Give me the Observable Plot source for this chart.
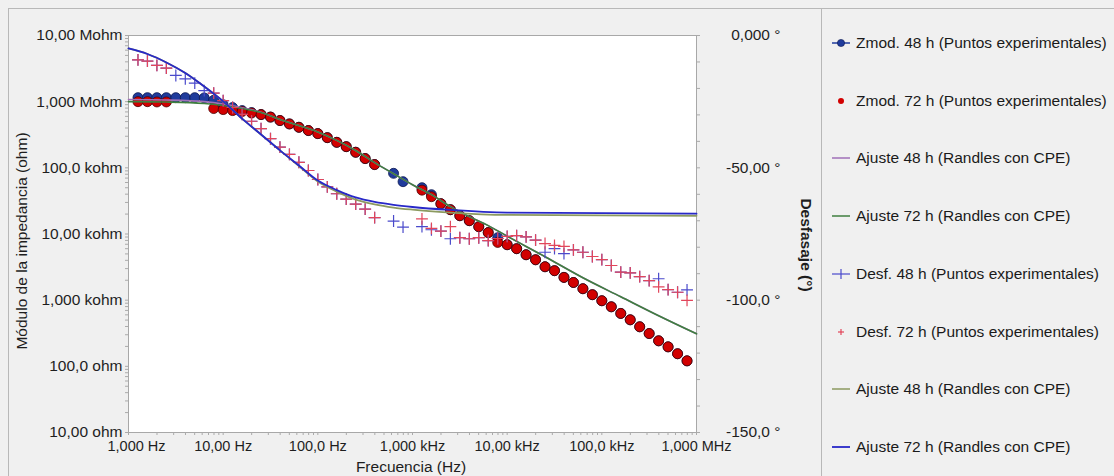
<!DOCTYPE html>
<html>
<head>
<meta charset="utf-8">
<script src="https://cdn.jsdelivr.net/npm/d3@7"></script>
<script src="https://cdn.jsdelivr.net/npm/@observablehq/plot@0.6"></script>
<style>
  html, body { margin: 0; padding: 0; background: #f0f0f0; }
  #wrap { position: relative; width: 1114px; height: 476px; background: #f0f0f0; overflow: hidden;
          font-family: "Liberation Sans", Arial, sans-serif; color: #222; }
  #chart { position: absolute; left: 0; top: 0; }
  .lbl { position: absolute; font-size: 15.5px; white-space: nowrap; color: #1e1e1e; }
  .rule { position: absolute; background: #b8b8b8; }
  .leg { position: absolute; left: 830px; font-size: 15.5px; white-space: nowrap; color: #1a1a1a; height: 18px; line-height: 18px; }
  .leg svg { position: absolute; left: 0; top: 1px; }
  .leg span { position: absolute; left: 26px; top: 0; }
</style>
</head>
<body>
<div id="wrap">
  <div class="rule" style="left:8px;top:8px;width:1106px;height:1px;"></div>
  <div class="rule" style="left:8px;top:8px;width:1px;height:468px;"></div>
  <div class="rule" style="left:821px;top:8px;width:1px;height:468px;"></div>
  <div id="chart"></div>
  <div class="lbl" id="ylab" style="left:22px;top:241px;transform:translate(-50%,-50%) rotate(-90deg);">Módulo de la impedancia (ohm)</div>
  <div class="lbl" id="xlab" style="left:411px;top:467px;transform:translate(-50%,-50%);">Frecuencia (Hz)</div>
  <div class="lbl" id="y2lab" style="left:806px;top:245px;font-weight:bold;transform:translate(-50%,-50%) rotate(90deg);">Desfasaje (°)</div>
  <div id="legend"></div>
</div>
<script>
// ---------- data ----------
const freq = [1.259, 1.585, 1.995, 2.512, 3.162, 3.981, 5.012, 6.310, 7.943, 10.00,
  12.59, 15.85, 19.95, 25.12, 31.62, 39.81, 50.12, 63.10, 79.43, 100.0,
  125.9, 158.5, 199.5, 251.2, 316.2, 398.1, 501.2, 631.0, 794.3, 1000,
  1259, 1585, 1995, 2512, 3162, 3981, 5012, 6310, 7943, 10000,
  12589, 15849, 19953, 25119, 31623, 39811, 50119, 63096, 79433, 100000,
  125893, 158489, 199526, 251189, 316228, 398107, 501187, 630957, 794328];

// |Z| 48 h (ohm)
const zmod48 = [1.15e6, 1.15e6, 1.15e6, 1.15e6, 1.15e6, 1.15e6, 1.15e6, 1.14e6, 1.05e6, 9.0e5,
  8.15e5, 7.33e5, 6.84e5, 6.38e5, 5.85e5, 5.18e5, 4.61e5, 4.10e5, 3.66e5, 3.29e5,
  2.86e5, 2.43e5, 2.09e5, 1.72e5, 1.38e5, 1.12e5, null, 8.26e4, 6.18e4, null,
  5.01e4, 3.93e4, 2.87e4, 2.33e4, 1.89e4, 1.59e4, 1.29e4, 1.05e4, 8.79e3, 6.89e3,
  6.00e3, 4.86e3, 4.08e3, 3.20e3, 2.79e3, 2.21e3, 1.85e3, 1.49e3, 1.21e3, 980,
  794, 630, 505, 396, 313, 243, 197, 155, 121];

// |Z| 72 h (ohm)
const zmod72 = [1.0e6, 1.0e6, 0.99e6, 0.99e6, null, null, null, null, 7.87e5, 7.59e5,
  7.33e5, 7.08e5, 6.73e5, 6.38e5, 5.85e5, 5.18e5, 4.61e5, 4.10e5, 3.66e5, 3.29e5,
  2.86e5, 2.43e5, 2.09e5, 1.72e5, 1.38e5, 1.12e5, null, null, null, null,
  4.6e4, 3.66e4, 2.87e4, 2.33e4, 1.89e4, 1.59e4, 1.29e4, 1.05e4, 7.46e3, 6.89e3,
  6.00e3, 4.86e3, 4.08e3, 3.20e3, 2.79e3, 2.21e3, 1.85e3, 1.49e3, 1.21e3, 980,
  794, 630, 505, 396, 313, 243, 197, 155, 121];

// phase 48 h (degrees)
const desf48 = [-9.2, -9.7, -11.3, -12.3, -15.1, -16.4, -18.0, -20.8, -21.8, -24.6,
  -27.2, -29.8, -32.4, -35.2, -39.0, -42.2, -44.9, -47.9, -51.0, -54.4,
  -57.2, -59.8, -61.8, -63.7, -65.6, -68.8, null, -70.1, -72.4, null,
  -72.2, -73.4, -73.9, -76.8, -76.4, -76.8, -76.4, -77.5, -76.7, -75.9,
  -75.6, -76.1, -77.3, -81.9, -80.5, -82.4, -81.0, -81.9, -83.5, -84.7,
  -86.9, -89.4, -89.7, -91.1, -92.6, -91.9, -96.0, -97.0, -96.1];

// phase 72 h (degrees)
const desf72 = [-9.2, -9.7, -11.3, -12.3, null, null, null, null, -21.8, -24.6,
  -27.2, -29.8, -32.4, -35.2, -39.0, -42.2, -44.9, -47.9, -51.0, -54.4,
  -57.2, -59.8, -61.8, -63.7, -65.6, -68.8, null, null, null, null,
  -69.3, -72.9, -73.9, -72.2, -76.4, -76.8, -76.4, -77.5, -76.7, -75.9,
  -75.6, -76.1, -77.3, -78.6, -79.3, -79.7, -81.0, -81.9, -83.5, -84.7,
  -86.9, -89.4, -89.7, -91.1, -92.6, -95.0, -96.0, -97.0, -100.1];

// Randles + CPE fits, |Z|
const fitFreqZ = [1, 2.512, 6.310, 10, 15.85, 25.12, 39.81, 63.10, 100, 158.5,
  251.2, 398.1, 631.0, 1000, 1585, 2512, 3981, 6310, 10000, 25119,
  63096, 158489, 398107, 1000000];
const fitZ48 = [1.08e6, 1.06e6, 1.0e6, 9.2e5, 8.1e5, 6.9e5, 5.37e5, 4.36e5, 3.49e5, 2.60e5,
  1.83e5, 1.20e5, 8.15e4, 5.54e4, 3.93e4, 2.59e4, 1.83e4, 1.34e4, 9.27e3, 4.54e3,
  2.18e3, 1.125e3, 581, 310];
const fitZ72 = [1.0e6, 9.86e5, 9.38e5, 8.73e5, 7.87e5, 6.84e5, 5.37e5, 4.36e5, 3.49e5, 2.60e5,
  1.83e5, 1.20e5, 8.15e4, 5.54e4, 3.93e4, 2.59e4, 1.83e4, 1.34e4, 9.27e3, 4.54e3,
  2.18e3, 1.125e3, 581, 310];

// Randles + CPE fits, phase
const fitFreqP = [1, 1.585, 2.512, 3.981, 6.310, 10, 15.85, 25.12, 39.81, 63.10,
  100, 158.5, 251.2, 398.1, 631.0, 1000, 2512, 10000, 100000, 1000000];
const fitP48 = [-4.9, -7.0, -10.2, -14.2, -19.3, -24.9, -31.4, -37.4, -43.4, -49.3,
  -55.2, -59.0, -62.0, -63.8, -65.0, -65.8, -66.9, -67.8, -68.0, -68.1];
const fitP72 = [-4.9, -7.0, -10.2, -14.2, -19.3, -24.9, -31.4, -37.4, -43.4, -49.1,
  -54.8, -58.4, -61.2, -62.9, -64.0, -64.8, -65.9, -66.9, -67.1, -67.3];

// ticks
const xTicks = [1, 10, 100, 1e3, 1e4, 1e5, 1e6];
const xTickLabels = ["1,000 Hz", "10,00 Hz", "100,0 Hz", "1,000 kHz", "10,00 kHz", "100,0 kHz", "1,000 MHz"];
const yTicks = [10, 100, 1e3, 1e4, 1e5, 1e6, 1e7];
const yTickLabels = ["10,00 ohm", "100,0 ohm", "1,000 kohm", "10,00 kohm", "100,0 kohm", "1,000 Mohm", "10,00 Mohm"];
const phaseTicks = [0, -50, -100, -150];
const phaseTickLabels = ["0,000 °", "-50,00 °", "-100,0 °", "-150,0 °"];

const legendLabels = ["Zmod. 48 h (Puntos experimentales)", "Zmod. 72 h (Puntos experimentales)",
  "Ajuste 48 h (Randles con CPE)", "Ajuste 72 h (Randles con CPE)",
  "Desf. 48 h (Puntos experimentales)", "Desf. 72 h (Puntos experimentales)",
  "Ajuste 48 h (Randles con CPE)", "Ajuste 72 h (Randles con CPE)"];

// ---------- build ----------
const C = {
  z48: "#1f3b9c", z48s: "#0c1850",
  z72: "#d20000", z72s: "#4a0000",
  fz48: "#a070b8", fz72: "#3f7f3f",
  d48: "#4a4acb", d72: "#e2455a",
  fp48: "#8c9a60", fp72: "#2828c8"
};

const phaseToY = p => (p == null ? NaN : Math.pow(10, 7 + p / 25));
const pts = freq.map((f, i) => ({f, z48: zmod48[i], z72: zmod72[i], p48: desf48[i], p72: desf72[i]}));
const fz = fitFreqZ.map((f, i) => ({f, a: fitZ48[i], b: fitZ72[i]}));
const fp = fitFreqP.map((f, i) => ({f, a: fitP48[i], b: fitP72[i]}));

const xMap = new Map(xTicks.map((t, i) => [t, xTickLabels[i]]));
const yMap = new Map(yTicks.map((t, i) => [t, yTickLabels[i]]));
const minorX = d3.scaleLog().domain([1, 1e6]).ticks();
const minorY = d3.scaleLog().domain([10, 1e7]).ticks();
const phaseMinor = d3.range(0, -151, -10);

const chart = Plot.plot({
  width: 1114, height: 476,
  marginLeft: 128, marginRight: 418, marginTop: 35, marginBottom: 44,
  style: {background: "transparent", fontFamily: "'Liberation Sans', Arial, sans-serif", fontSize: "15.5px", color: "#1e1e1e", overflow: "visible"},
  x: {type: "log", domain: [1, 1e6]},
  y: {type: "log", domain: [10, 1e7]},
  marks: [
    Plot.frame({fill: "white", stroke: "#a8a8a8"}),
    Plot.axisX({ticks: minorX, tickSize: 3, tickFormat: () => "", stroke: "#aaa", label: null}),
    Plot.axisX({ticks: xTicks.slice(1), tickSize: 0, tickPadding: 8, tickFormat: d => xMap.get(d), label: null, fill: "#1e1e1e", fontSize: 14.5}),
    Plot.axisX({ticks: xTicks.slice(0, 1), tickSize: 0, tickPadding: 8, dx: 8, tickFormat: d => xMap.get(d), label: null, fill: "#1e1e1e", fontSize: 14.5}),
    Plot.axisY({ticks: minorY, tickSize: 3, tickFormat: () => "", stroke: "#aaa", label: null}),
    Plot.axisY({ticks: yTicks, tickSize: 0, tickPadding: 6, tickFormat: d => yMap.get(d), label: null, fill: "#1e1e1e"}),
    Plot.axisY({anchor: "right", ticks: phaseMinor.map(phaseToY), tickSize: 3, tickFormat: () => "", stroke: "#aaa", label: null}),
    Plot.text(phaseTicks, {y: d => phaseToY(d), frameAnchor: "right", dx: 84, textAnchor: "end", text: (d, i) => phaseTickLabels[i], fill: "#1e1e1e"}),

    Plot.dot(pts, {x: "f", y: "z48", r: 5, fill: C.z48, stroke: C.z48s, strokeWidth: 0.8}),
    Plot.dot(pts, {x: "f", y: "z72", r: 5, fill: C.z72, stroke: C.z72s, strokeWidth: 0.8}),
    Plot.line(fz, {x: "f", y: "a", stroke: C.fz48, strokeWidth: 1.6, curve: "monotone-x"}),
    Plot.line(fz, {x: "f", y: "b", stroke: C.fz72, strokeWidth: 1.6, curve: "monotone-x"}),
    Plot.dot(pts, {x: "f", y: d => phaseToY(d.p48), symbol: "plus", r: 3.9, stroke: C.d48, strokeWidth: 1.2}),
    Plot.dot(pts, {x: "f", y: d => phaseToY(d.p72), symbol: "plus", r: 3.9, stroke: C.d72, strokeWidth: 1.2}),
    Plot.line(fp, {x: "f", y: d => phaseToY(d.a), stroke: C.fp48, strokeWidth: 1.8, curve: "monotone-x"}),
    Plot.line(fp, {x: "f", y: d => phaseToY(d.b), stroke: C.fp72, strokeWidth: 1.8, curve: "monotone-x"})
  ]
});
document.getElementById("chart").appendChild(chart);

// ---------- legend ----------
const legendMarkers = [
  `<line x1="2" y1="8" x2="20" y2="8" stroke="${C.z48}" stroke-width="1.5"/><circle cx="11" cy="8" r="3.6" fill="${C.z48}" stroke="${C.z48s}" stroke-width="0.6"/>`,
  `<circle cx="11" cy="8" r="3" fill="${C.z72}"/>`,
  `<line x1="2" y1="8" x2="20" y2="8" stroke="${C.fz48}" stroke-width="1.5"/>`,
  `<line x1="2" y1="8" x2="20" y2="8" stroke="${C.fz72}" stroke-width="1.5"/>`,
  `<line x1="2" y1="8" x2="20" y2="8" stroke="${C.d48}" stroke-width="1.2"/><line x1="11" y1="3" x2="11" y2="13" stroke="${C.d48}" stroke-width="1.2"/>`,
  `<line x1="8" y1="8" x2="14" y2="8" stroke="${C.d72}" stroke-width="1.2"/><line x1="11" y1="5" x2="11" y2="11" stroke="${C.d72}" stroke-width="1.2"/>`,
  `<line x1="2" y1="8" x2="20" y2="8" stroke="${C.fp48}" stroke-width="1.5"/>`,
  `<line x1="2" y1="8" x2="20" y2="8" stroke="${C.fp72}" stroke-width="1.8"/>`
];
const legend = document.getElementById("legend");
legendLabels.forEach((t, i) => {
  const div = document.createElement("div");
  div.className = "leg";
  div.style.top = (34 + i * 57.7) + "px";
  div.innerHTML = `<svg width="24" height="16">${legendMarkers[i]}</svg><span></span>`;
  div.querySelector("span").textContent = t;
  legend.appendChild(div);
});
</script>
</body>
</html>
